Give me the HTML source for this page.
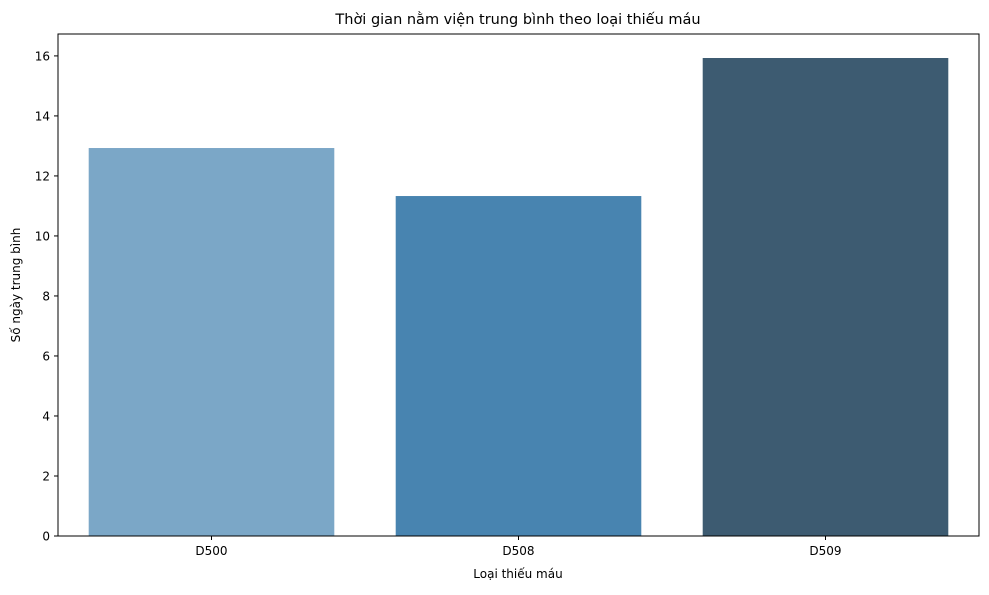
<!DOCTYPE html>
<html><head><meta charset="utf-8"><style>
body{margin:0;background:#fff;font-family:"Liberation Sans","DejaVu Sans",sans-serif;}
svg text{font-family:"DejaVu Sans","Liberation Sans",sans-serif;fill:#000;}
</style></head><body>
<svg id="chart" width="989" height="590">
<text x="518" y="24" font-size="14.5" text-anchor="middle">Thời gian nằm viện trung bình theo loại thiếu máu</text>
<g id="bars"></g><g id="yticks"></g><g id="xticks"></g>
<rect x="58" y="34" width="921" height="502" fill="none" stroke="#000" stroke-width="1"/>
<text x="518" y="578" font-size="12" text-anchor="middle">Loại thiếu máu</text>
<text transform="translate(20,285) rotate(-90)" font-size="12" text-anchor="middle">Số ngày trung bình</text>
</svg>
<script>
const categories=["D500","D508","D509"];
const values=[12.93,11.33,15.93];
const colors=["#7ba7c7","#4884b0","#3d5b71"];
const yTicks=[0,2,4,6,8,10,12,14,16];
const X0=58,X1=979,Y0=536,Ymax=16.73,Ytop=34;
const ns="http://www.w3.org/2000/svg";
function y(v){return Y0-(v/Ymax)*(Y0-Ytop);}
const band=(X1-X0)/categories.length;
function xc(i){return X0+band*(i+0.5);}
const gb=document.getElementById("bars"),gy=document.getElementById("yticks"),gx=document.getElementById("xticks");
categories.forEach((c,i)=>{
 const r=document.createElementNS(ns,"rect");
 const w=band*0.8;
 r.setAttribute("x",xc(i)-w/2);r.setAttribute("y",y(values[i]));
 r.setAttribute("width",w);r.setAttribute("height",Y0-y(values[i]));
 r.setAttribute("fill",colors[i]);
 
 
 gb.appendChild(r);
 const l=document.createElementNS(ns,"line");
 l.setAttribute("x1",xc(i));l.setAttribute("x2",xc(i));l.setAttribute("y1",Y0);l.setAttribute("y2",Y0+4);l.setAttribute("stroke","#000");
 gx.appendChild(l);
 const t=document.createElementNS(ns,"text");
 t.setAttribute("x",xc(i));t.setAttribute("y",Y0+19);t.setAttribute("font-size","12");t.setAttribute("text-anchor","middle");
 t.textContent=c;
 
 
 gx.appendChild(t);
});
yTicks.forEach(v=>{
 const l=document.createElementNS(ns,"line");
 l.setAttribute("x1",X0-4);l.setAttribute("x2",X0);l.setAttribute("y1",y(v));l.setAttribute("y2",y(v));l.setAttribute("stroke","#000");
 gy.appendChild(l);
 const t=document.createElementNS(ns,"text");
 t.setAttribute("x",X0-8);t.setAttribute("y",y(v)+4.5);t.setAttribute("font-size","12");t.setAttribute("text-anchor","end");
 t.textContent=v;
 
 
 gy.appendChild(t);
});
</script>
</body></html>
